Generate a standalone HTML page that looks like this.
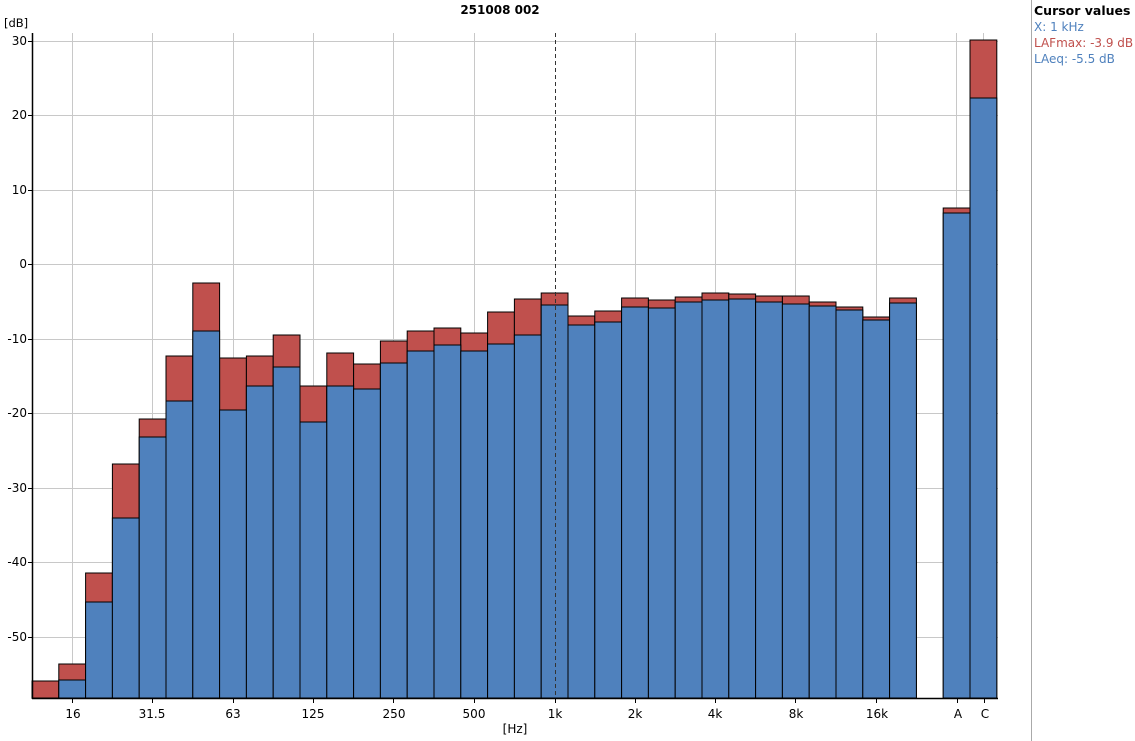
<!DOCTYPE html>
<html><head><meta charset="utf-8"><style>
html,body{margin:0;padding:0;background:#fff;width:1135px;height:741px;overflow:hidden}
svg{display:block;font-family:"DejaVu Sans","Liberation Sans",sans-serif}
</style></head><body>
<svg width="1135" height="741" viewBox="0 0 1135 741">
<text x="500" y="14" font-size="12" font-weight="bold" text-anchor="middle" fill="#000">251008 002</text>
<text x="4" y="27" font-size="11.5" fill="#000">[dB]</text>
<g stroke="#c8c8c8" stroke-width="1">
<line x1="32" x2="998" y1="41.5" y2="41.5"/><line x1="32" x2="998" y1="115.5" y2="115.5"/><line x1="32" x2="998" y1="190.5" y2="190.5"/><line x1="32" x2="998" y1="264.5" y2="264.5"/><line x1="32" x2="998" y1="339.5" y2="339.5"/><line x1="32" x2="998" y1="413.5" y2="413.5"/><line x1="32" x2="998" y1="488.5" y2="488.5"/><line x1="32" x2="998" y1="562.5" y2="562.5"/><line x1="32" x2="998" y1="637.5" y2="637.5"/>
<line x1="72.5" x2="72.5" y1="33" y2="698"/><line x1="152.5" x2="152.5" y1="33" y2="698"/><line x1="233.5" x2="233.5" y1="33" y2="698"/><line x1="313.5" x2="313.5" y1="33" y2="698"/><line x1="393.5" x2="393.5" y1="33" y2="698"/><line x1="474.5" x2="474.5" y1="33" y2="698"/><line x1="635.5" x2="635.5" y1="33" y2="698"/><line x1="715.5" x2="715.5" y1="33" y2="698"/><line x1="795.5" x2="795.5" y1="33" y2="698"/><line x1="876.5" x2="876.5" y1="33" y2="698"/><line x1="956.5" x2="956.5" y1="33" y2="698"/><line x1="983.5" x2="983.5" y1="33" y2="698"/>
</g>
<g stroke="#000" stroke-width="1">
<g fill="#c0504d">
<rect x="32" y="681" width="26.8" height="17"/>
<rect x="58.8" y="664" width="26.8" height="34"/>
<rect x="85.6" y="573" width="26.8" height="125"/>
<rect x="112.4" y="464" width="26.8" height="234"/>
<rect x="139.2" y="419" width="26.8" height="279"/>
<rect x="166" y="356" width="26.8" height="342"/>
<rect x="192.8" y="283" width="26.8" height="415"/>
<rect x="219.6" y="358" width="26.8" height="340"/>
<rect x="246.4" y="356" width="26.8" height="342"/>
<rect x="273.2" y="335" width="26.8" height="363"/>
<rect x="300" y="386" width="26.8" height="312"/>
<rect x="326.8" y="353" width="26.8" height="345"/>
<rect x="353.6" y="364" width="26.8" height="334"/>
<rect x="380.4" y="341" width="26.8" height="357"/>
<rect x="407.2" y="331" width="26.8" height="367"/>
<rect x="434" y="328" width="26.8" height="370"/>
<rect x="460.8" y="333" width="26.8" height="365"/>
<rect x="487.6" y="312" width="26.8" height="386"/>
<rect x="514.4" y="299" width="26.8" height="399"/>
<rect x="541.2" y="293" width="26.8" height="405"/>
<rect x="568" y="316" width="26.8" height="382"/>
<rect x="594.8" y="311" width="26.8" height="387"/>
<rect x="621.6" y="298" width="26.8" height="400"/>
<rect x="648.4" y="300" width="26.8" height="398"/>
<rect x="675.2" y="297" width="26.8" height="401"/>
<rect x="702" y="293" width="26.8" height="405"/>
<rect x="728.8" y="294" width="26.8" height="404"/>
<rect x="755.6" y="296" width="26.8" height="402"/>
<rect x="782.4" y="296" width="26.8" height="402"/>
<rect x="809.2" y="302" width="26.8" height="396"/>
<rect x="836" y="307" width="26.8" height="391"/>
<rect x="862.8" y="317" width="26.8" height="381"/>
<rect x="889.6" y="298" width="26.8" height="400"/>
<rect x="943.2" y="208" width="26.8" height="490"/>
<rect x="970" y="40" width="26.8" height="658"/>
</g>
<g fill="#4f81bd">
<rect x="58.8" y="680" width="26.8" height="18"/>
<rect x="85.6" y="602" width="26.8" height="96"/>
<rect x="112.4" y="518" width="26.8" height="180"/>
<rect x="139.2" y="437" width="26.8" height="261"/>
<rect x="166" y="401" width="26.8" height="297"/>
<rect x="192.8" y="331" width="26.8" height="367"/>
<rect x="219.6" y="410" width="26.8" height="288"/>
<rect x="246.4" y="386" width="26.8" height="312"/>
<rect x="273.2" y="367" width="26.8" height="331"/>
<rect x="300" y="422" width="26.8" height="276"/>
<rect x="326.8" y="386" width="26.8" height="312"/>
<rect x="353.6" y="389" width="26.8" height="309"/>
<rect x="380.4" y="363" width="26.8" height="335"/>
<rect x="407.2" y="351" width="26.8" height="347"/>
<rect x="434" y="345" width="26.8" height="353"/>
<rect x="460.8" y="351" width="26.8" height="347"/>
<rect x="487.6" y="344" width="26.8" height="354"/>
<rect x="514.4" y="335" width="26.8" height="363"/>
<rect x="541.2" y="305" width="26.8" height="393"/>
<rect x="568" y="325" width="26.8" height="373"/>
<rect x="594.8" y="322" width="26.8" height="376"/>
<rect x="621.6" y="307" width="26.8" height="391"/>
<rect x="648.4" y="308" width="26.8" height="390"/>
<rect x="675.2" y="302" width="26.8" height="396"/>
<rect x="702" y="300" width="26.8" height="398"/>
<rect x="728.8" y="299" width="26.8" height="399"/>
<rect x="755.6" y="302" width="26.8" height="396"/>
<rect x="782.4" y="304" width="26.8" height="394"/>
<rect x="809.2" y="306" width="26.8" height="392"/>
<rect x="836" y="310" width="26.8" height="388"/>
<rect x="862.8" y="320" width="26.8" height="378"/>
<rect x="889.6" y="303" width="26.8" height="395"/>
<rect x="943.2" y="213" width="26.8" height="485"/>
<rect x="970" y="98" width="26.8" height="600"/>
</g>
</g>
<line x1="555.5" x2="555.5" y1="33" y2="698" stroke="#333" stroke-dasharray="4,3"/>
<line x1="32.5" x2="32.5" y1="33" y2="699" stroke="#000" stroke-width="1.5"/>
<line x1="32" x2="998" y1="698.5" y2="698.5" stroke="#000" stroke-width="1.5"/>
<g stroke="#000">
<line x1="28" x2="32" y1="41.5" y2="41.5"/><line x1="28" x2="32" y1="115.5" y2="115.5"/><line x1="28" x2="32" y1="190.5" y2="190.5"/><line x1="28" x2="32" y1="264.5" y2="264.5"/><line x1="28" x2="32" y1="339.5" y2="339.5"/><line x1="28" x2="32" y1="413.5" y2="413.5"/><line x1="28" x2="32" y1="488.5" y2="488.5"/><line x1="28" x2="32" y1="562.5" y2="562.5"/><line x1="28" x2="32" y1="637.5" y2="637.5"/>
<line x1="72.5" x2="72.5" y1="699" y2="703"/><line x1="152.5" x2="152.5" y1="699" y2="703"/><line x1="233.5" x2="233.5" y1="699" y2="703"/><line x1="313.5" x2="313.5" y1="699" y2="703"/><line x1="393.5" x2="393.5" y1="699" y2="703"/><line x1="474.5" x2="474.5" y1="699" y2="703"/><line x1="555.5" x2="555.5" y1="699" y2="703"/><line x1="635.5" x2="635.5" y1="699" y2="703"/><line x1="715.5" x2="715.5" y1="699" y2="703"/><line x1="795.5" x2="795.5" y1="699" y2="703"/><line x1="876.5" x2="876.5" y1="699" y2="703"/><line x1="957.5" x2="957.5" y1="699" y2="703"/><line x1="984.5" x2="984.5" y1="699" y2="703"/>
</g>
<g font-size="12" fill="#000" text-anchor="end">
<text x="27" y="45">30</text><text x="27" y="119">20</text><text x="27" y="194">10</text><text x="27" y="268">0</text><text x="27" y="343">-10</text><text x="27" y="417">-20</text><text x="27" y="492">-30</text><text x="27" y="566">-40</text><text x="27" y="641">-50</text>
</g>
<g font-size="12" fill="#000" text-anchor="middle">
<text x="73" y="718">16</text><text x="152" y="718">31.5</text><text x="233" y="718">63</text><text x="313" y="718">125</text><text x="394" y="718">250</text><text x="474" y="718">500</text><text x="555" y="718">1k</text><text x="635" y="718">2k</text><text x="715" y="718">4k</text><text x="796" y="718">8k</text><text x="877" y="718">16k</text><text x="958" y="718">A</text><text x="985" y="718">C</text>
<text x="515" y="733">[Hz]</text>
</g>
<line x1="1031.5" x2="1031.5" y1="0" y2="741" stroke="#aaa"/>
<text x="1034" y="15" font-size="12.5" font-weight="bold" fill="#000">Cursor values</text>
<text x="1034" y="31" font-size="12" fill="#4f81bd">X: 1 kHz</text>
<text x="1034" y="47" font-size="12" fill="#c0504d">LAFmax: -3.9 dB</text>
<text x="1034" y="63" font-size="12" fill="#4f81bd">LAeq: -5.5 dB</text>
</svg>
</body></html>
